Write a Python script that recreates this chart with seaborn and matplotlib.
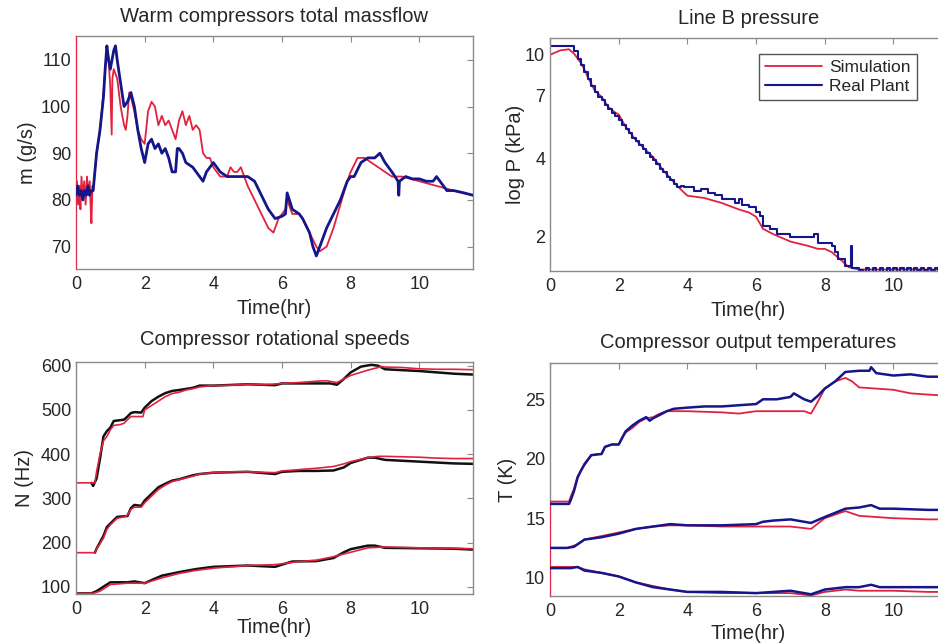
import numpy as np
import matplotlib
matplotlib.use("Agg")
import matplotlib.pyplot as plt
import seaborn as sns
from matplotlib.ticker import FixedLocator, FixedFormatter, NullFormatter, LogLocator

# ---- massflow (g/s) ----
mf_sim_t = [0, 0, 0, 0.03, 0.06, 0.1, 0.13, 0.16, 0.2, 0.24, 0.28, 0.32, 0.36, 0.4, 0.43, 0.45, 0.48, 0.5,
            0.6, 0.7, 0.8, 0.85, 0.9, 0.95, 1.0, 1.04, 1.06, 1.1, 1.2, 1.3, 1.4, 1.45, 1.5, 1.55, 1.6, 1.7, 1.8,
            1.9, 2.0, 2.1, 2.2, 2.3, 2.4, 2.5, 2.6, 2.7, 2.8, 2.9, 3.0, 3.1, 3.2, 3.3, 3.4, 3.5, 3.6, 3.7,
            3.8, 3.9, 4.0, 4.2, 4.4, 4.5, 4.6, 4.7, 4.8, 4.9, 5.0, 5.2, 5.4, 5.6, 5.75, 5.9, 6.0, 6.1, 6.15,
            6.2, 6.3, 6.5, 6.6, 6.8, 7.0, 7.1, 7.3, 7.5, 7.7, 7.9, 8.0, 8.2, 8.4, 8.6, 8.8, 9.0, 9.2, 9.5,
            10.0, 10.5, 11.0, 11.56]
mf_sim = [65, 115, 80, 84, 79, 83, 78, 85, 80, 84, 79, 85, 81, 84, 78, 75, 83, 82,
          90, 95, 103, 108, 112, 110, 104, 94, 106, 108, 106, 100, 96, 95, 98, 103, 102, 99, 95,
          93, 92, 99, 101, 100, 96, 98, 96, 97, 95, 93, 97, 99, 96, 98, 95, 96, 95, 90,
          89, 89, 87, 85, 85, 87, 86, 86, 87, 85, 83, 80, 77, 74, 73, 76, 77, 78, 81,
          79, 77, 77, 76, 73, 70, 69, 70, 74, 79, 84, 86, 89, 89, 88, 87, 86, 85, 85,
          84, 83, 82, 81]
mf_real_t = [0, 0.05, 0.1, 0.15, 0.2, 0.25, 0.3, 0.35, 0.4, 0.45, 0.5, 0.6, 0.7, 0.8, 0.85, 0.9, 0.95,
             1.0, 1.1, 1.15, 1.2, 1.3, 1.4, 1.5, 1.6, 1.7, 1.8, 1.9, 2.0, 2.1, 2.2, 2.3, 2.4, 2.5, 2.6,
             2.7, 2.8, 2.9, 2.95, 3.0, 3.1, 3.2, 3.4, 3.6, 3.7, 3.8, 4.0, 4.2, 4.4, 4.6, 4.8, 5.0, 5.2,
             5.4, 5.6, 5.8, 6.0, 6.1, 6.15, 6.3, 6.5, 6.6, 6.8, 6.9, 7.0, 7.1, 7.3, 7.5, 7.7, 7.9, 8.0,
             8.1, 8.3, 8.5, 8.7, 8.85, 9.0, 9.2, 9.38, 9.4, 9.42, 9.6, 9.8, 10.0, 10.2, 10.4, 10.5,
             10.6, 10.8, 11.0, 11.3, 11.56]
mf_real = [81, 83, 81, 82, 80, 82, 81, 83, 81, 82, 82, 90, 95, 102, 108, 113, 110,
           108, 112, 113, 110, 105, 100, 101, 103, 100, 95, 91, 88, 92, 93, 91, 92, 90, 91,
           89, 86, 86, 91, 91, 90, 88, 87, 85, 84, 86, 88, 86, 85, 85, 85, 85, 84,
           81, 78, 76, 76.5, 77, 81.5, 78, 77, 76, 73, 70, 68, 70, 74, 77, 80, 84, 85,
           85, 88, 89, 89, 90, 88, 86, 84, 81, 84, 85, 84.5, 84.5, 84, 84, 85,
           84, 82, 82, 81.5, 81]

# ---- line B pressure (kPa) ----
p_sim_t = [0, 0.3, 0.55, 0.7, 0.9, 1.0, 1.1, 1.3, 1.5, 1.7, 1.9, 2.0, 2.2, 2.5, 2.8, 3.0, 3.3, 3.6, 3.8,
           4.0, 4.5, 5.0, 5.5, 5.8, 6.0, 6.2, 6.5, 7.0, 7.5, 7.8, 8.0, 8.2, 8.5, 8.7, 9.0,
           9.5, 11.56]
p_sim = [10.0, 10.4, 10.5, 10.1, 9.3, 8.8, 8.2, 7.3, 6.9, 6.3, 6.0, 5.9, 5.3, 4.7, 4.3, 4.05, 3.6, 3.25, 3.05,
         2.88, 2.82, 2.7, 2.55, 2.48, 2.39, 2.15, 2.05, 1.92, 1.85, 1.8, 1.8, 1.75, 1.62, 1.53, 1.5,
         1.5, 1.5]
p_real_t = [0, 0.6, 0.7, 0.8, 0.9, 1.0, 1.1, 1.2, 1.3, 1.4, 1.5, 1.6, 1.7, 1.8, 1.9, 2.0, 2.1, 2.2,
            2.3, 2.4, 2.5, 2.6, 2.7, 2.8, 2.9, 3.0, 3.1, 3.2, 3.3, 3.4, 3.5, 3.6, 3.7, 3.8, 3.9, 4.0,
            4.2, 4.4, 4.6, 4.8, 5.0, 5.2, 5.4, 5.5, 5.6, 5.8, 6.0, 6.1, 6.2, 6.4, 6.6,
            7.0, 7.6, 7.7, 7.8, 8.0, 8.2, 8.3, 8.4, 8.6, 8.75, 8.8, 9.0, 9.1, 9.2, 9.3, 9.4, 9.5,
            9.6, 9.7, 9.8, 9.9, 10.0, 10.1, 10.2, 10.3, 10.4, 10.5, 10.6, 10.7, 10.8, 10.9, 11.0,
            11.1, 11.2, 11.3, 11.56]
p_real = [10.8, 10.8, 10.3, 9.6, 9.1, 8.6, 8.1, 7.6, 7.2, 6.9, 6.7, 6.4, 6.2, 6.0, 5.8, 5.6, 5.4, 5.2,
          5.0, 4.8, 4.65, 4.5, 4.35, 4.2, 4.05, 3.95, 3.8, 3.65, 3.55, 3.4, 3.3, 3.2, 3.1, 3.15, 3.1, 3.1,
          3.0, 3.05, 2.95, 2.9, 2.8, 2.8, 2.7, 2.8, 2.65, 2.6, 2.5, 2.4, 2.2, 2.15, 2.05,
          2.0, 2.0, 2.05, 1.9, 1.9, 1.85, 1.75, 1.65, 1.55, 1.85, 1.52, 1.5, 1.47, 1.52, 1.47, 1.52,
          1.47, 1.52, 1.47, 1.52, 1.47, 1.52, 1.47, 1.52, 1.47, 1.52, 1.47, 1.52, 1.49, 1.52, 1.49, 1.52,
          1.5, 1.52, 1.5, 1.5]

# ---- compressor rotational speeds (Hz) ----
n1_sim_t = [0, 0.55, 0.6, 0.7, 0.8, 0.9, 1.0, 1.1, 1.3, 1.4, 1.5, 1.6, 1.8, 1.95, 2.0, 2.2, 2.4, 2.6,
            2.8, 3.0, 3.2, 3.4, 3.6, 4.0, 4.5, 5.0, 5.5, 6.0, 6.5, 7.0, 7.3, 7.6, 7.8, 8.0, 8.5, 8.9,
            9.0, 9.5, 10.0, 10.5, 11.0, 11.56]
n1_sim = [335, 335, 360, 400, 430, 440, 455, 465, 467, 470, 478, 485, 485, 485, 500, 510, 520, 530,
          537, 540, 545, 548, 552, 555, 556, 558, 557, 560, 562, 565, 566, 562, 570, 578, 590, 598,
          597, 596, 593, 592, 592, 591]
n1_real_t = [0.45, 0.5, 0.6, 0.7, 0.8, 0.9, 1.0, 1.1, 1.3, 1.4, 1.5, 1.6, 1.7, 1.9, 2.0, 2.2, 2.4, 2.6,
             2.8, 3.0, 3.4, 3.6, 4.0, 5.0, 5.8, 6.0, 6.5, 7.0, 7.4, 7.6, 7.8, 8.0, 8.3, 8.6, 8.8, 9.0,
             9.5, 10.0, 10.5, 11.0, 11.56]
n1_real = [335, 328, 345, 390, 440, 452, 460, 475, 477, 478, 485, 493, 495, 494, 505, 520, 530, 538,
           543, 545, 550, 555, 555, 558, 556, 560, 560, 560, 560, 557, 570, 585, 598, 602, 600, 592,
           590, 588, 585, 582, 580]
n2_sim_t = [0, 0.55, 0.6, 0.8, 0.9, 1.0, 1.2, 1.4, 1.5, 1.6, 1.7, 1.9, 2.0, 2.2, 2.4, 2.6, 2.8, 3.0,
            3.4, 3.6, 4.0, 4.5, 5.0, 5.8, 6.0, 6.5, 7.0, 7.5, 7.8, 8.0, 8.5, 8.8, 9.0, 9.5, 10.0, 10.5,
            11.0, 11.56]
n2_sim = [177, 177, 185, 210, 230, 240, 255, 258, 262, 275, 280, 280, 290, 305, 320, 330, 338, 342,
          350, 355, 358, 360, 360, 358, 362, 365, 368, 372, 378, 383, 392, 395, 395, 394, 393, 391,
          390, 390]
n2_real_t = [0.55, 0.6, 0.8, 0.9, 1.0, 1.2, 1.5, 1.6, 1.7, 1.9, 2.0, 2.2, 2.4, 2.6, 2.8, 3.0, 3.4, 3.6,
             4.0, 5.0, 5.8, 6.0, 6.5, 7.0, 7.5, 7.8, 8.0, 8.5, 8.7, 9.0, 9.5, 10.0, 10.5, 11.0, 11.56]
n2_real = [177, 186, 215, 235, 243, 258, 260, 278, 285, 283, 295, 310, 325, 333, 340, 343, 352, 355,
           358, 360, 355, 360, 362, 362, 363, 370, 380, 392, 392, 387, 385, 383, 381, 379, 378]
n3_sim_t = [0, 0.5, 0.7, 0.9, 1.0, 1.5, 2.0, 2.5, 3.0, 3.5, 4.0, 5.0, 5.8, 6.0, 6.5, 7.0, 7.5, 8.0,
            8.5, 9.0, 10.0, 11.0, 11.56]
n3_sim = [85, 85, 90, 100, 105, 108, 108, 120, 130, 137, 142, 148, 150, 152, 157, 160, 168, 178,
          188, 190, 188, 187, 186]
n3_real_t = [0, 0.45, 0.6, 0.8, 0.9, 1.0, 1.5, 1.7, 2.0, 2.2, 2.5, 3.0, 3.5, 4.0, 5.0, 5.8, 6.0, 6.3,
             7.0, 7.5, 7.8, 8.0, 8.5, 8.7, 9.0, 10.0, 11.0, 11.56]
n3_real = [85, 85, 90, 100, 105, 110, 110, 112, 108, 115, 125, 133, 140, 145, 148, 145, 150, 157,
           158, 165, 178, 185, 193, 193, 188, 187, 186, 184]

# ---- compressor output temperatures (K) ----
t1_sim_t = [0, 0, 0.55, 0.6, 0.7, 0.8, 0.9, 1.0, 1.2, 1.4, 1.5, 1.6, 1.8, 2.0, 2.1, 2.2, 2.4, 2.6,
            2.8, 3.0, 3.2, 3.4, 3.6, 4.0, 5.0, 5.5, 6.0, 7.0, 7.4, 7.6, 7.8, 8.0, 8.3, 8.6, 8.8, 9.0,
            9.5, 10.0, 10.5, 11.0, 11.56]
t1_sim = [8.4, 16.4, 16.4, 16.8, 17.5, 18.5, 19.0, 19.6, 20.3, 20.4, 20.4, 21.0, 21.2, 21.2, 21.8, 22.2,
          22.6, 23.1, 23.4, 23.5, 23.8, 24.0, 24.0, 24.0, 23.9, 23.8, 24.0, 24.0, 24.0, 23.8, 24.8, 25.9,
          26.5, 26.8, 26.5, 26.0, 25.9, 25.8, 25.5, 25.4, 25.3]
t1_real_t = [0, 0.55, 0.6, 0.7, 0.8, 0.9, 1.0, 1.2, 1.5, 1.6, 1.8, 2.0, 2.2, 2.4, 2.6, 2.8, 2.9, 3.0,
             3.4, 3.6, 4.0, 4.5, 5.0, 6.0, 6.2, 6.6, 7.0, 7.1, 7.4, 7.6, 7.8, 8.0, 8.3, 8.6, 9.0, 9.3,
             9.35, 9.5, 10.0, 10.5, 11.0, 11.56]
t1_real = [16.2, 16.2, 16.5, 17.3, 18.4, 19.0, 19.5, 20.3, 20.4, 21.0, 21.2, 21.2, 22.3, 22.8, 23.2,
           23.5, 23.2, 23.4, 24.0, 24.2, 24.3, 24.4, 24.4, 24.6, 25.0, 25.0, 25.2, 25.5, 25.0, 24.8,
           25.3, 25.9, 26.5, 27.3, 27.4, 27.4, 27.7, 27.2, 27.0, 27.1, 26.9, 26.9]
t2_sim_t = [0, 0.5, 0.8, 1.0, 1.5, 2.0, 2.5, 3.0, 3.5, 4.0, 5.0, 6.0, 7.0, 7.6, 8.0, 8.6, 9.0, 10.0,
            11.0, 11.56]
t2_sim = [12.5, 12.5, 12.8, 13.2, 13.5, 13.8, 14.1, 14.3, 14.4, 14.4, 14.3, 14.3, 14.3, 14.1, 15.0, 15.6,
          15.2, 15.0, 14.9, 14.9]
t2_real_t = [0, 0.5, 0.7, 1.0, 1.5, 2.0, 2.5, 3.0, 3.5, 4.0, 5.0, 6.0, 6.2, 6.5, 7.0, 7.2, 7.6, 8.0,
             8.6, 9.0, 9.35, 9.6, 10.0, 11.0, 11.56]
t2_real = [12.5, 12.5, 12.6, 13.2, 13.4, 13.7, 14.1, 14.3, 14.5, 14.4, 14.4, 14.5, 14.7, 14.8, 14.9,
           14.8, 14.6, 15.1, 15.8, 15.9, 16.1, 15.8, 15.8, 15.7, 15.7]
t3_sim_t = [0, 0.6, 0.8, 1.0, 1.5, 2.0, 2.5, 3.0, 3.5, 4.0, 5.0, 6.0, 7.0, 7.6, 8.0, 8.6, 9.0, 10.0,
            11.0, 11.56]
t3_sim = [10.9, 10.9, 10.9, 10.7, 10.4, 10.1, 9.6, 9.3, 9.0, 8.8, 8.7, 8.7, 8.7, 8.5, 8.8, 9.0, 8.9, 8.9,
          8.8, 8.8]
t3_real_t = [0, 0.6, 0.8, 1.0, 1.5, 2.0, 2.5, 3.0, 3.5, 4.0, 5.0, 6.0, 6.5, 7.0, 7.6, 8.0, 8.6, 9.0,
             9.35, 9.6, 10.0, 11.0, 11.56]
t3_real = [10.8, 10.8, 10.9, 10.6, 10.4, 10.1, 9.6, 9.2, 9.0, 8.8, 8.8, 8.7, 8.8, 8.9, 8.6, 9.0, 9.2,
           9.2, 9.4, 9.2, 9.2, 9.2, 9.2]

RED = "#e2213f"
BLUE = "#14168a"
BLACK = "#111111"
FRAME = "#8a8a8a"

sns.set_style("white")
plt.rcParams["font.family"] = ["Liberation Sans", "DejaVu Sans"]

fig = plt.figure(figsize=(9.38, 6.43), dpi=100)
ax_mf = fig.add_axes([0.081, 0.5816, 0.4232, 0.3624])
ax_p = fig.add_axes([0.5864, 0.5785, 0.4232, 0.3624])
ax_n = fig.add_axes([0.081, 0.0757, 0.4232, 0.3617])
ax_t = fig.add_axes([0.5864, 0.0726, 0.4232, 0.3628])


def line(ax, t, y, color, lw, **kw):
    sns.lineplot(x=t, y=y, ax=ax, color=color, linewidth=lw, estimator=None,
                 sort=False, **kw)


# massflow
line(ax_mf, mf_sim_t, mf_sim, RED, 1.3, zorder=3)
line(ax_mf, mf_real_t, mf_real, BLUE, 2.0, zorder=3.5)
ax_mf.set_ylim(65.2, 115.1)
ax_mf.set_yticks([70, 80, 90, 100, 110])
ax_mf.set_title("Warm compressors total massflow", fontsize=14.5, pad=10)
ax_mf.set_ylabel("m (g/s)", fontsize=14.5, labelpad=3)

# pressure (log)
line(ax_p, p_sim_t, p_sim, RED, 1.3, label="Simulation")
line(ax_p, p_real_t, p_real, BLUE, 1.5, label="Real Plant", drawstyle="steps-post")
ax_p.set_yscale("log")
ax_p.set_ylim(1.48, 11.6)
ax_p.yaxis.set_major_locator(FixedLocator([2, 4, 7, 10]))
ax_p.yaxis.set_major_formatter(FixedFormatter(["2", "4", "7", "10"]))
ax_p.yaxis.set_minor_locator(LogLocator(base=10, subs=np.arange(1, 10)))
ax_p.yaxis.set_minor_formatter(NullFormatter())
ax_p.set_title("Line B pressure", fontsize=14.5, pad=10)
ax_p.set_ylabel("log P (kPa)", fontsize=14.5, labelpad=0)
leg = ax_p.legend(loc="upper right", bbox_to_anchor=(0.924, 0.931), borderaxespad=0,
                  fancybox=False, framealpha=1, edgecolor="#555555", fontsize=12.5,
                  handlelength=3.3, handletextpad=0.4, borderpad=0.35, labelspacing=0.2)
leg.get_frame().set_linewidth(1.0)

# rotational speeds
for (st, sv, rt, rv) in [(n1_sim_t, n1_sim, n1_real_t, n1_real),
                         (n2_sim_t, n2_sim, n2_real_t, n2_real),
                         (n3_sim_t, n3_sim, n3_real_t, n3_real)]:
    line(ax_n, rt, rv, BLACK, 1.8)
    line(ax_n, st, sv, RED, 1.2)
ax_n.set_ylim(82.8, 609)
ax_n.set_yticks([100, 200, 300, 400, 500, 600])
ax_n.set_title("Compressor rotational speeds", fontsize=14.5, pad=12)
ax_n.set_ylabel("N (Hz)", fontsize=14.5, labelpad=5)

# temperatures
for (st, sv, rt, rv) in [(t1_sim_t, t1_sim, t1_real_t, t1_real),
                         (t2_sim_t, t2_sim, t2_real_t, t2_real),
                         (t3_sim_t, t3_sim, t3_real_t, t3_real)]:
    line(ax_t, st, sv, RED, 1.3, zorder=3)
    line(ax_t, rt, rv, BLUE, 1.8, zorder=3.5)
ax_t.set_ylim(8.43, 28.05)
ax_t.set_yticks([10, 15, 20, 25])
ax_t.set_title("Compressor output temperatures", fontsize=14.5, pad=11)
ax_t.set_ylabel("T (K)", fontsize=14.5, labelpad=6)

for ax, lp in [(ax_mf, 4), (ax_p, 4), (ax_n, 0), (ax_t, 2.5)]:
    ax.set_xlim(0, 11.56)
    ax.set_xticks([0, 2, 4, 6, 8, 10])
    ax.set_xlabel("Time(hr)", fontsize=14.5, labelpad=lp)
    ax.tick_params(axis="both", which="both", direction="in", top=True, right=True,
                   labelsize=13, color=FRAME, width=0.8)
    ax.tick_params(which="major", length=4)
    ax.tick_params(which="minor", length=2.5)
    ax.tick_params(axis="x", pad=5)
    for s in ax.spines.values():
        s.set_color(FRAME)
        s.set_linewidth(1.0)

fig.savefig("out.png", dpi=100)
